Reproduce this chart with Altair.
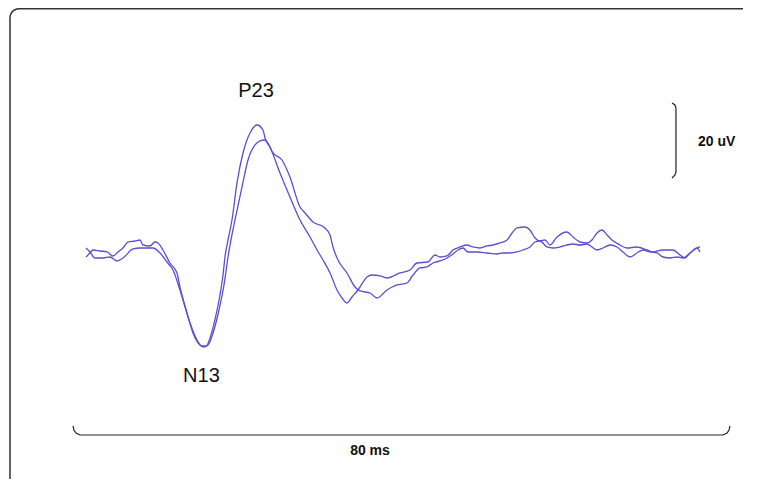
import altair as alt
import pandas as pd

# Trace 1 (higher, earlier P23 peak) - time in ms, amplitude in uV
t_a = [1.70, 2.19, 2.55, 3.40, 4.26, 4.98, 5.59, 6.20, 6.81, 7.66, 8.27, 8.63, 9.48, 10.09, 10.46,
       11.06, 11.91, 12.77, 13.13, 13.98, 14.71, 15.81, 16.29, 16.90, 17.51, 17.99, 18.36, 18.60,
       18.97, 19.45, 20.06, 20.79, 21.64, 22.49, 23.22, 23.47, 24.07, 25.29, 26.50, 27.72, 28.94,
       29.79, 30.52, 31.37, 32.22, 32.83, 33.43, 34.04, 34.77, 35.87, 36.47, 37.45, 38.30, 39.88,
       41.09, 41.95, 43.28, 44.13, 44.74, 45.59, 46.32, 47.17, 48.02, 48.75, 49.61, 50.46, 51.19,
       52.04, 52.89, 53.50, 54.10, 55.08, 55.68, 56.29, 56.90, 57.51, 58.12, 58.97, 60.18, 60.91,
       61.76, 62.61, 63.22, 63.83, 64.44, 65.05, 65.65, 66.63, 67.48, 68.69, 69.91, 70.64, 71.85,
       73.07, 73.92, 74.53, 75.14, 75.99, 76.35]
v_a = [-1.87, -0.80, 0.00, -0.27, -0.53, -1.60, -0.53, 0.53, 2.13, 2.40, 2.67, 1.33, 1.07, 2.13, 1.87,
       0.00, -3.47, -6.13, -9.87, -16.8, -22.13, -25.6, -25.6, -22.67, -17.33, -12.0, -6.67, -1.87,
       2.67, 8.0, 17.87, 25.87, 31.2, 33.33, 32.0, 29.87, 27.47, 20.53, 14.13, 8.0, 3.47,
       0.0, -2.67, -6.13, -10.67, -12.8, -14.13, -12.53, -10.67, -7.2, -6.67, -6.93, -7.47, -6.13,
       -5.33, -3.47, -3.2, -1.33, -1.87, -1.6, 0.0, 0.8, 1.33, 0.8, 0.53, 1.07, 1.33,
       1.87, 2.67, 4.53, 5.87, 6.13, 5.33, 3.2, 2.4, 2.67, 1.33, 3.47, 4.8, 3.47,
       2.13, 1.87, 2.67, 4.53, 5.33, 4.0, 2.67, 1.33, 0.53, 0.8, 0.0, -0.53, 0.0,
       0.0, -1.33, -2.13, -0.8, 0.53, 0.8]

# Trace 2 (lower, later P23 peak)
t_b = [1.70, 2.19, 2.80, 3.77, 4.62, 5.47, 6.20, 7.42, 8.27, 9.12, 9.85, 10.70, 11.55, 12.28,
       13.13, 14.35, 15.20, 15.93, 16.54, 17.26, 17.87, 18.48, 18.97, 19.33, 19.82, 20.67, 21.40,
       22.25, 22.86, 23.47, 23.71, 24.44, 25.53, 26.50, 27.72, 28.33, 29.30, 30.76, 31.37, 31.73,
       32.34, 33.43, 34.41, 35.02, 36.23, 37.08, 38.30, 39.51, 40.73, 41.46, 42.31, 43.16, 43.89,
       44.74, 45.59, 46.32, 46.93, 47.54, 48.15, 49.24, 50.46, 51.67, 52.40, 53.25, 54.10, 54.83,
       55.68, 56.29, 56.90, 57.75, 58.48, 59.33, 60.18, 60.91, 61.76, 62.61, 63.22, 63.83, 64.56,
       65.41, 66.26, 66.99, 67.84, 68.69, 69.42, 70.27, 71.12, 71.85, 72.71, 73.56, 74.29, 75.14,
       75.99, 76.35]
v_b = [0.53, -0.53, -2.13, -2.13, -1.87, -2.93, -2.13, 0.27, 0.53, 0.53, 0.53, -0.8, -3.2, -5.33,
       -10.67, -19.47, -24.0, -25.87, -25.33, -21.33, -16.0, -9.33, -1.87, 2.67, 8.0, 16.8, 24.0,
       28.0, 29.07, 29.33, 28.8, 25.87, 24.0, 19.47, 11.47, 9.87, 7.47, 5.87, 4.0, 0.8,
       -2.67, -6.13, -9.87, -10.93, -11.47, -12.8, -10.67, -9.33, -8.8, -6.67, -4.8, -4.53, -3.47,
       -2.93, -2.13, -1.07, 0.0, 0.53, -0.53, -0.53, -0.8, -1.07, -0.8, -0.8, -0.53, 0.0,
       0.8, 2.13, 2.4, 0.8, 0.53, 0.8, 1.33, 1.6, 1.33, 1.6, 0.8, 0.0, 0.53,
       1.33, 0.8, -0.53, -1.87, -0.8, 0.0, -0.53, -0.8, -1.87, -2.13, -1.87, -2.13, -0.8,
       0.53, -0.53]

# Calibration brackets (80 ms time bar, 20 uV amplitude bar)
time_bar_t = [0.12, 0.24, 0.49, 0.97, 79.15, 79.64, 79.88, 80.0]
time_bar_v = [-46.93, -48.0, -48.8, -49.33, -49.33, -48.8, -48.0, -46.93]
amp_bar_t = [72.95, 73.31, 73.43, 73.43, 73.31, 72.95]
amp_bar_v = [39.2, 38.67, 37.87, 20.8, 20.0, 19.2]

# Outer frame (top edge, rounded top-left corner, left edge), running to the page edges
frame_t = [81.58, -6.444, -6.727, -6.991, -7.217, -7.391, -7.500, -7.538, -7.538]
frame_v = [64.33, 64.33, 64.25, 64.01, 63.63, 63.13, 62.55, 61.93, -61.07]

peak_labels = ["P23", "N13"]
peak_t = [22.37, 15.74]
peak_v = [42.4, -33.6]

cal_labels = ["80 ms", "20 uV"]
cal_t = [36.23, 76.11]
cal_v = [-53.47, 28.8]
cal_align = ["center", "left"]

X_DOMAIN = [-7.78, 81.58]
Y_DOMAIN = [-61.07, 64.53]

xs = alt.Scale(domain=X_DOMAIN, nice=False, zero=False)
ys = alt.Scale(domain=Y_DOMAIN, nice=False, zero=False)

traces = pd.concat([
    pd.DataFrame({"t": t_a, "v": v_a, "trace": "1", "i": range(len(t_a))}),
    pd.DataFrame({"t": t_b, "v": v_b, "trace": "2", "i": range(len(t_b))}),
])

wave = alt.Chart(traces).mark_line(color="#5a4fd0", strokeWidth=1.3, interpolate="monotone").encode(
    x=alt.X("t:Q", scale=xs, axis=None),
    y=alt.Y("v:Q", scale=ys, axis=None),
    detail="trace:N",
    order="i:Q",
)

tb = pd.DataFrame({"t": time_bar_t, "v": time_bar_v, "i": range(len(time_bar_t))})
time_bar = alt.Chart(tb).mark_line(color="#222222", strokeWidth=1.2).encode(
    x=alt.X("t:Q", scale=xs, axis=None),
    y=alt.Y("v:Q", scale=ys, axis=None),
    order="i:Q",
)

ab = pd.DataFrame({"t": amp_bar_t, "v": amp_bar_v, "i": range(len(amp_bar_t))})
amp_bar = alt.Chart(ab).mark_line(color="#222222", strokeWidth=1.2).encode(
    x=alt.X("t:Q", scale=xs, axis=None),
    y=alt.Y("v:Q", scale=ys, axis=None),
    order="i:Q",
)

fr = pd.DataFrame({"t": frame_t, "v": frame_v, "i": range(len(frame_t))})
frame = alt.Chart(fr).mark_line(color="#333333", strokeWidth=1.5).encode(
    x=alt.X("t:Q", scale=xs, axis=None),
    y=alt.Y("v:Q", scale=ys, axis=None),
    order="i:Q",
)

pk = pd.DataFrame({"label": peak_labels, "t": peak_t, "v": peak_v})
peak_text = alt.Chart(pk).mark_text(
    font="Liberation Sans", fontSize=20, color="#111111", align="center", baseline="middle"
).encode(
    x=alt.X("t:Q", scale=xs, axis=None),
    y=alt.Y("v:Q", scale=ys, axis=None),
    text="label:N",
)

cl = pd.DataFrame({"label": cal_labels, "t": cal_t, "v": cal_v, "align": cal_align})
cal_center = alt.Chart(cl[cl["align"] == "center"]).mark_text(
    font="Liberation Sans", fontSize=14, fontWeight="bold", color="#111111",
    align="center", baseline="middle"
).encode(
    x=alt.X("t:Q", scale=xs, axis=None),
    y=alt.Y("v:Q", scale=ys, axis=None),
    text="label:N",
)
cal_left = alt.Chart(cl[cl["align"] == "left"]).mark_text(
    font="Liberation Sans", fontSize=14, fontWeight="bold", color="#111111",
    align="left", baseline="middle"
).encode(
    x=alt.X("t:Q", scale=xs, axis=None),
    y=alt.Y("v:Q", scale=ys, axis=None),
    text="label:N",
)

chart = alt.layer(frame, wave, time_bar, amp_bar, peak_text, cal_center, cal_left).properties(
    width=735,
    height=471,
    padding=0,
    autosize=alt.AutoSizeParams(type="none"),
    background="white",
).configure_view(strokeWidth=0)

chart.save("out.html", embed_options={"renderer": "svg", "actions": False})
